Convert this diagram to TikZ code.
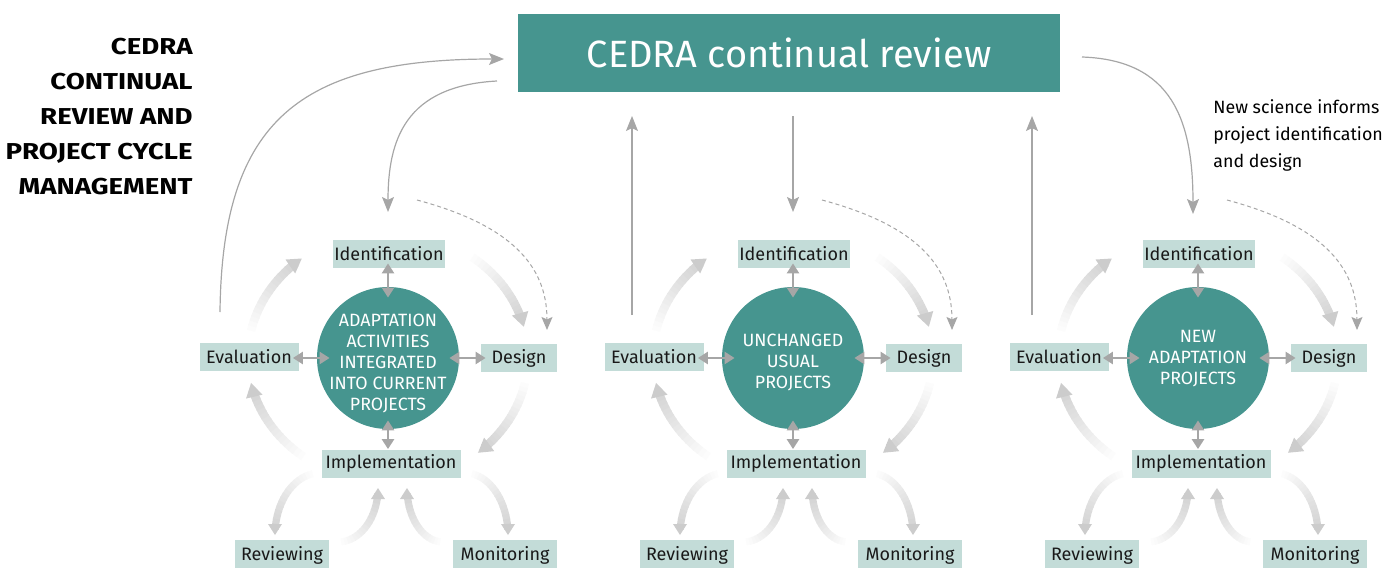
\documentclass[tikz,border=0pt]{standalone}
\usepackage{fontspec}
\setmainfont{Fira Sans}
\newfontfamily\headingfont[FakeStretch=1.2]{Fira Sans}
\usetikzlibrary{arrows.meta}

\definecolor{cedrateal}{HTML}{46958F}
\definecolor{stagefill}{HTML}{C3DCD8}
\definecolor{linkgray}{HTML}{A6A6A6}

% wide fading arrow: shaft width (pt), head length and width (drawing units)
\newcommand\shaftw{4pt}
\newcommand\headlen{14}
\newcommand\headw{20}

% #1,#2 centre, #3,#4 radii, #5 start angle, #6 end angle (head at the end)
\newcommand\fadearc[6]{%
  \pgfmathsetmacro\fdir{(#6>#5)?1:-1}%
  \pgfmathsetmacro\fspeed{veclen(#3*sin(#6),#4*cos(#6))}%
  \pgfmathsetmacro\fux{-\fdir*#3*sin(#6)/\fspeed}%
  \pgfmathsetmacro\fuy{\fdir*#4*cos(#6)/\fspeed}%
  \pgfmathsetmacro\fex{#1+#3*cos(#6)}%
  \pgfmathsetmacro\fey{#2+#4*sin(#6)}%
  \pgfmathsetmacro\fstop{#6-\fdir*(\headlen*0.6/\fspeed)*57.2958}%
  \foreach \k in {0,...,17}{%
    \pgfmathsetmacro\fa{#5+(\fstop-#5)*\k/18}%
    \pgfmathsetmacro\fb{#5+(\fstop-#5)*(\k+1.2)/18}%
    \pgfmathtruncatemacro\fp{18*\k/17}%
    \draw[line width=\shaftw, black!\fp]
      plot[domain=\fa:\fb, samples=4] ({#1+#3*cos(\x)},{#2+#4*sin(\x)});
  }%
  \fill[black!20] (\fex,\fey)
    -- ({\fex-\headlen*\fux+\headw/2*\fuy},{\fey-\headlen*\fuy-\headw/2*\fux})
    -- ({\fex-\headlen*\fux-\headw/2*\fuy},{\fey-\headlen*\fuy+\headw/2*\fux})
    -- cycle;
}

% one project cycle around a hub
% #1 suffix, #2 centre x, #3 hub text, #4 vertical offset of the hub text
\newcommand\stagecycle[4]{%
  % circulating arrows
  \renewcommand\shaftw{4.3pt}\renewcommand\headlen{14}\renewcommand\headw{17}%
  \fadearc{#2}{357}{140}{125}{-55}{-14}
  \fadearc{#2}{357}{140}{125}{10}{50}
  \fadearc{#2}{357}{140}{125}{125}{168}
  \fadearc{#2}{357}{140}{125}{190}{232}
  \renewcommand\shaftw{3.6pt}\renewcommand\headlen{11}\renewcommand\headw{14}%
  \fadearc{#2-68}{535}{45}{62}{265}{180}
  \fadearc{#2-50}{488}{40}{54}{90}{0}
  \fadearc{#2+55}{488}{36}{54}{90}{180}
  \fadearc{#2+77}{535}{43}{62}{275}{360}
  % hub and stages
  \node[core] (hub#1) at (#2,358) {};
  \node[hubtext] (hubtext#1) at ([yshift=#4]hub#1.center) {#3};
  \node[stage, minimum width=56pt] (ident#1) at (#2+1,254) {Identification};
  \node[stage, minimum width=49.5pt] (eval#1) at (#2-139,356.5) {Evaluation};
  \node[stage, minimum width=38pt] (design#1) at (#2+131,358) {Design};
  \node[stage, minimum width=69.5pt] (impl#1) at (#2+3,463.5) {Implementation};
  \node[stage, minimum width=47pt, minimum height=15pt] (revw#1) at (#2-106,555) {Reviewing};
  \node[stage, minimum width=52pt, minimum height=15pt] (monit#1) at (#2+117,555) {Monitoring};
  % two-way links between hub and stages
  \draw[twoway] ([yshift=2.5pt]ident#1.south -| hub#1.north) -- ([yshift=-5.5pt]hub#1.north);
  \draw[twoway] ([yshift=4.5pt]hub#1.south) -- (impl#1.north -| hub#1.south);
  \draw[twoway] ([xshift=-3pt]eval#1.east |- hub#1.west) -- ([xshift=6.5pt]hub#1.west);
  \draw[twoway] ([xshift=-5pt]hub#1.east) -- ([xshift=2.5pt]design#1.west |- hub#1.east);
  % science feeding into design
  \coordinate (dfrom#1) at (#2+29,200);
  \coordinate (dto#1) at (#2+159,330);
  \draw[dlink] (dfrom#1) .. controls +(93,25) and +(0,-65) .. (dto#1);
}

\tikzset{
  stage/.style={fill=stagefill, minimum height=14pt, inner sep=0pt,
    font=\fontsize{9}{11}\selectfont, text=black!90},
  core/.style={circle, fill=cedrateal, minimum size=71pt, inner sep=0pt},
  hubtext/.style={text=white, align=center, inner sep=0pt,
    font=\fontsize{8.9}{10.5}\selectfont},
  link/.style={draw=linkgray, line width=0.6pt,
    -{Stealth[length=7.5pt, width=6pt, inset=1.5pt]}},
  dlink/.style={draw=linkgray, line width=0.5pt, dash pattern=on 2pt off 1.5pt,
    -{Stealth[length=6.5pt, width=5.5pt, inset=1.2pt]}},
  twoway/.style={draw=linkgray, line width=1.4pt,
    {Triangle[length=5pt, width=6pt]}-{Triangle[length=5pt, width=6pt]}},
}

\begin{document}
\begin{tikzpicture}[x=0.5pt, y=-0.5pt]
  \useasboundingbox (0,0) rectangle (1394,568);

  % heading
  \node[anchor=east, align=right, inner sep=0pt,
        font=\headingfont\fontsize{11.5}{17.5}\selectfont\bfseries,
        text=black] (heading) at (193,116.5)
    {CEDRA\\CONTINUAL\\REVIEW AND\\PROJECT CYCLE\\MANAGEMENT};

  % continual review banner
  \node[fill=cedrateal, minimum width=271pt, minimum height=39pt, inner sep=0pt,
        text=white, font=\fontsize{19}{22}\selectfont] (cedra) at (789,53)
    {CEDRA continual review};

  \node[anchor=west, align=left, inner sep=0pt,
        font=\fontsize{8.9}{13.5}\selectfont, text=black]
    (note) at (1213,135)
    {New science informs\\project identification\\and design};

  \stagecycle{1}{388}{ADAPTATION\\ACTIVITIES\\INTEGRATED\\INTO CURRENT\\PROJECTS}{-2.5pt}
  \stagecycle{2}{793}{UNCHANGED\\USUAL\\PROJECTS}{-2pt}
  \stagecycle{3}{1198}{NEW\\ADAPTATION\\PROJECTS}{-0.5pt}

  % links between the banner and the cycles
  \coordinate (outA) at (497,81);
  \coordinate (inA) at (388,212);
  \draw[link] (outA) .. controls (405,86) and (388,140) .. (inA);

  \coordinate (upA) at (220,312);
  \coordinate (backA) at (504,59);
  \draw[link] (upA) .. controls (222,120) and (300,59) .. (backA);

  \coordinate (upB) at (632,315);
  \coordinate (backB) at (632,116);
  \draw[link] (upB) -- (backB);

  \coordinate (outB) at (793,116);
  \coordinate (inB) at (793,212);
  \draw[link] (outB) -- (inB);

  \coordinate (upC) at (1032,315);
  \coordinate (backC) at (1032,116);
  \draw[link] (upC) -- (backC);

  \coordinate (outC) at (1082,57);
  \coordinate (inC) at (1193,214);
  \draw[link] (outC) .. controls (1172,60) and (1193,120) .. (inC);
\end{tikzpicture}
\end{document}
